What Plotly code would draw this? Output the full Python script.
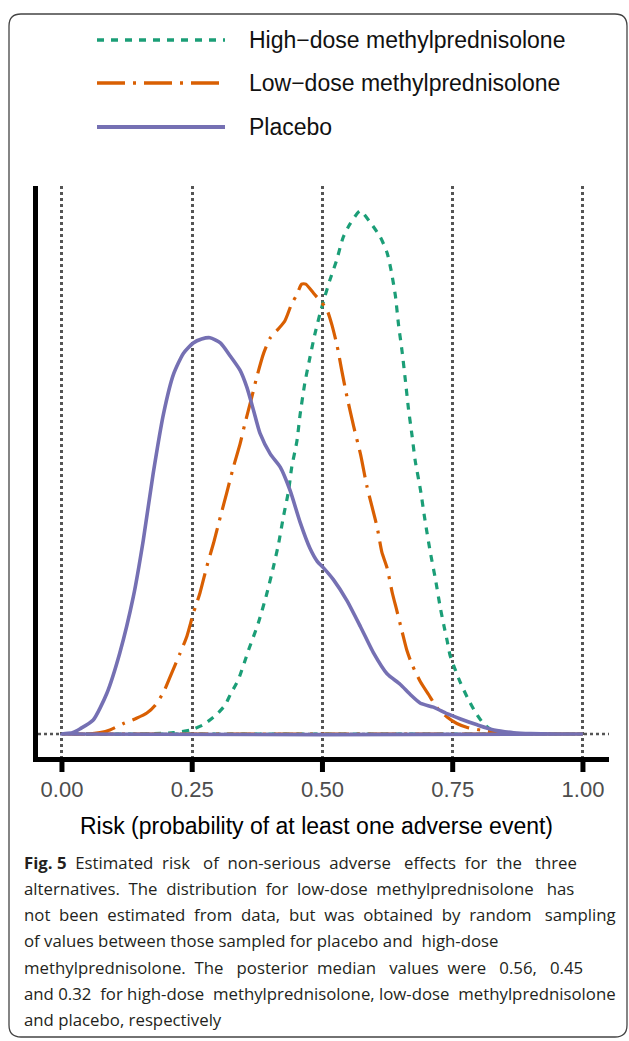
import plotly.graph_objects as go

# ---------------- data ----------------
series_names = ["High\u2212dose methylprednisolone", "Low\u2212dose methylprednisolone", "Placebo"]
series_colors = ["#1B9E77", "#D95F02", "#7570B3"]

x_high = [0, 0.15, 0.19, 0.214, 0.246, 0.271, 0.297, 0.313, 0.323, 0.339, 0.358, 0.377, 0.393,
          0.406, 0.416, 0.425, 0.435, 0.441, 0.451, 0.457, 0.466, 0.475, 0.485, 0.495, 0.505,
          0.515, 0.527, 0.540, 0.553, 0.5725, 0.592, 0.611, 0.624, 0.632, 0.640, 0.646, 0.653,
          0.659, 0.665, 0.672, 0.678, 0.688, 0.697, 0.707, 0.717, 0.726, 0.733, 0.739, 0.745,
          0.755, 0.765, 0.778, 0.793, 0.809, 0.829, 0.86, 0.9, 1.0]
d_high = [0, 0.0, 0.005, 0.01, 0.03, 0.07, 0.15, 0.22, 0.30, 0.42, 0.64, 0.85, 1.07,
          1.28, 1.46, 1.66, 1.86, 2.04, 2.24, 2.44, 2.68, 2.86, 3.05, 3.21, 3.35,
          3.48, 3.62, 3.80, 3.90, 4.0, 3.91, 3.80, 3.68, 3.54, 3.35, 3.13, 2.92,
          2.71, 2.49, 2.28, 2.09, 1.87, 1.63, 1.39, 1.18, 0.97, 0.83, 0.72, 0.60,
          0.49, 0.39, 0.28, 0.17, 0.08, 0.02, 0.0, 0.0, 0.0]

x_low = [0, 0.05, 0.073, 0.092, 0.118, 0.143, 0.163, 0.179, 0.195, 0.211, 0.226, 0.240, 0.252,
         0.265, 0.278, 0.291, 0.304, 0.316, 0.329, 0.342, 0.351, 0.364, 0.374, 0.387, 0.400,
         0.416, 0.428, 0.441, 0.451, 0.460, 0.468, 0.483, 0.496, 0.508, 0.518, 0.528, 0.537,
         0.547, 0.560, 0.573, 0.585, 0.595, 0.605, 0.614, 0.624, 0.634, 0.643, 0.653, 0.662,
         0.672, 0.688, 0.704, 0.720, 0.739, 0.758, 0.778, 0.803, 0.835, 0.87, 0.92, 1.0]
d_low = [0, 0.0, 0.01, 0.03, 0.08, 0.12, 0.16, 0.22, 0.32, 0.47, 0.61, 0.75, 0.92,
         1.08, 1.28, 1.46, 1.66, 1.84, 2.04, 2.22, 2.37, 2.57, 2.73, 2.91, 3.03,
         3.10, 3.16, 3.29, 3.36, 3.44, 3.44, 3.37, 3.31, 3.25, 3.13, 2.97, 2.78,
         2.58, 2.35, 2.14, 1.90, 1.74, 1.58, 1.39, 1.27, 1.08, 0.94, 0.78, 0.64,
         0.53, 0.40, 0.30, 0.20, 0.13, 0.08, 0.05, 0.03, 0.01, 0.0, 0.0, 0.0]

x_placebo = [0, 0.02, 0.035, 0.06, 0.086, 0.111, 0.137, 0.156, 0.175, 0.195, 0.214, 0.233, 0.252,
             0.268, 0.284, 0.304, 0.323, 0.342, 0.355, 0.368, 0.380, 0.40, 0.419, 0.438, 0.457,
             0.476, 0.49, 0.502, 0.521, 0.547, 0.573, 0.598, 0.624, 0.649, 0.669, 0.688, 0.713,
             0.739, 0.765, 0.797, 0.829, 0.867, 0.90, 0.95, 1.0]
d_placebo = [0, 0.01, 0.04, 0.107, 0.31, 0.62, 1.05, 1.48, 1.99, 2.45, 2.75, 2.91, 2.99,
             3.02, 3.03, 2.99, 2.89, 2.78, 2.65, 2.47, 2.30, 2.14, 2.04, 1.86, 1.62,
             1.42, 1.32, 1.27, 1.18, 1.02, 0.82, 0.62, 0.46, 0.38, 0.30, 0.235, 0.205,
             0.155, 0.115, 0.07, 0.03, 0.01, 0.003, 0.0, 0.0]

tick_vals = [0, 0.25, 0.5, 0.75, 1.0]
tick_text = ["0.00", "0.25", "0.50", "0.75", "1.00"]
x_title = "Risk (probability of at least one adverse event)"
caption_label = "Fig.\u00a05"
caption_lines = [
    "Estimated risk of non-serious adverse effects for the three",
    "alternatives. The distribution for low-dose methylprednisolone has",
    "not been estimated from data, but was obtained by random sampling",
    "of values between those sampled for placebo and high-dose",
    "methylprednisolone. The posterior median values were 0.56, 0.45",
    "and 0.32 for high-dose methylprednisolone, low-dose methylprednisolone",
    "and placebo, respectively",
]
# extra word-spacing units per caption line (the caption is justified)
caption_extra_spaces = [12, 7, 11, 1, 11, 3, 0]

# ---------------- geometry ----------------
WIDTH, HEIGHT = 629, 1041
L, R, T, B = 38, 609, 186, 757
PW, PH = R - L, B - T
X_RANGE = [-0.046, 1.05]
Y_RANGE = [-0.176, 4.19]


def xp(px):
    return (px - L) / PW


def yp(py):
    return (B - py) / PH


def xdata_to_paper(v):
    return (v - X_RANGE[0]) / (X_RANGE[1] - X_RANGE[0])


def justify(words, extra):
    gaps = len(words) - 1
    if gaps <= 0 or extra <= 0:
        return " ".join(words)
    out = words[0]
    for i, w in enumerate(words[1:]):
        n = (i + 1) * extra // gaps - i * extra // gaps
        out += " " + "\u00a0" * n + w
    return out


dashes = ["7px,7px", "28px,8px,3px,8px", "solid"]
widths = [3.2, 3.2, 3.6]
xs = [x_high, x_low, x_placebo]
ds = [d_high, d_low, d_placebo]

fig = go.Figure()
for name, col, dash, w, x, d in zip(series_names, series_colors, dashes, widths, xs, ds):
    # closed density outline (as geom_density draws it)
    xx = list(x) + [x[0]]
    yy = list(d) + [0]
    fig.add_trace(go.Scatter(
        x=xx, y=yy, mode="lines", name=name, showlegend=False,
        line=dict(color=col, width=w, dash=dash, shape="spline", smoothing=0.6),
        hoverinfo="skip",
    ))

shapes = []
# dotted horizontal reference line at density 0
shapes.append(dict(type="line", xref="paper", yref="y", x0=0, x1=1, y0=0, y1=0,
                   line=dict(color="#555555", width=2.6, dash="3px,3px"), layer="below"))

# axis tick marks (below the thick axis line)
for v in tick_vals:
    px_ = xdata_to_paper(v)
    shapes.append(dict(type="line", xref="paper", yref="paper", x0=px_, x1=px_,
                       y0=yp(758), y1=yp(772), line=dict(color="black", width=5)))

# manual legend
leg_rows = [40, 83, 127]
annotations = []
for name, col, dash, w, ry in zip(series_names, series_colors, dashes, widths, leg_rows):
    shapes.append(dict(type="line", xref="paper", yref="paper",
                       x0=xp(97), x1=xp(225), y0=yp(ry), y1=yp(ry),
                       line=dict(color=col, width=w + 0.4, dash=dash)))
    annotations.append(dict(text=name, xref="paper", yref="paper", x=xp(247), y=yp(ry),
                            xanchor="left", yanchor="middle", showarrow=False,
                            font=dict(family="Liberation Sans, Arial", size=23, color="#111111")))

# outer rounded frame
x0, x1, y0, y1, r = 9, 627, 14, 1037, 12
def P(px, py):
    return f"{xp(px):.5f},{yp(py):.5f}"
path = (f"M {P(x0 + r, y0)} L {P(x1 - r, y0)} Q {P(x1, y0)} {P(x1, y0 + r)} "
        f"L {P(x1, y1 - r)} Q {P(x1, y1)} {P(x1 - r, y1)} L {P(x0 + r, y1)} "
        f"Q {P(x0, y1)} {P(x0, y1 - r)} L {P(x0, y0 + r)} Q {P(x0, y0)} {P(x0 + r, y0)} Z")
shapes.append(dict(type="path", xref="paper", yref="paper", path=path,
                   line=dict(color="#444444", width=1.3)))

# axis title
annotations.append(dict(text=x_title, xref="paper", yref="paper", x=xp(316), y=yp(826),
                        xanchor="center", yanchor="middle", showarrow=False,
                        font=dict(family="Liberation Sans, Arial", size=23, color="#000000")))

# caption
for i, (line, extra) in enumerate(zip(caption_lines, caption_extra_spaces)):
    words = line.split(" ")
    if i == 0:
        words = ["<b>" + caption_label + "</b>"] + words
    annotations.append(dict(text=justify(words, extra), xref="paper", yref="paper",
                            x=xp(22), y=yp(862 + 26.3 * i),
                            xanchor="left", yanchor="middle", showarrow=False,
                            font=dict(family="Open Sans", size=16.8, color="#231f20")))

fig.update_layout(
    width=WIDTH, height=HEIGHT,
    margin=dict(l=L, r=WIDTH - R, t=T, b=HEIGHT - B, pad=0),
    paper_bgcolor="white", plot_bgcolor="white",
    showlegend=False,
    shapes=shapes, annotations=annotations,
    xaxis=dict(range=X_RANGE, tickvals=tick_vals, ticktext=tick_text,
               showline=True, linewidth=5, linecolor="black",
               ticks="outside", ticklen=9, tickwidth=1, tickcolor="rgba(0,0,0,0)",
               showgrid=True, gridcolor="#555555", gridwidth=2.8, griddash="3px,3px",
               zeroline=False,
               tickfont=dict(family="Liberation Sans, Arial", size=22, color="#4d4d4d")),
    yaxis=dict(range=Y_RANGE, showline=True, linewidth=5, linecolor="black",
               showticklabels=False, ticks="", showgrid=False, zeroline=False),
)

fig.write_html("out.html")
